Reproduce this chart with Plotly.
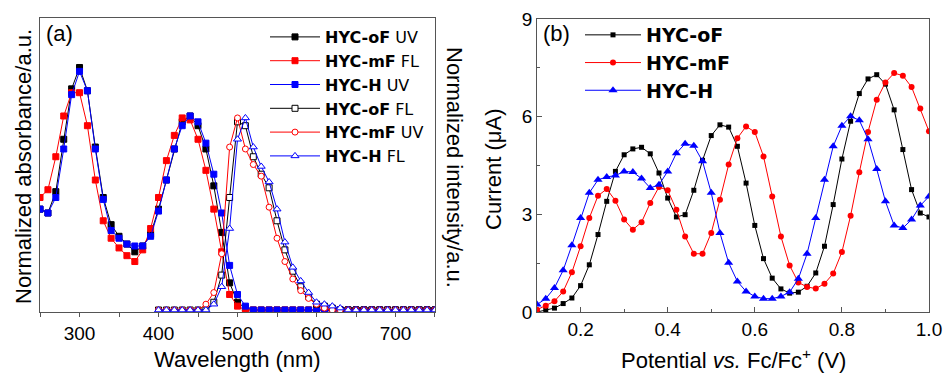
import plotly.graph_objects as go

# ---------------- Panel (a) data ----------------
wl_uv = list(range(250, 751, 10))
wl_fl = list(range(400, 751, 10))

oF_uv = [0.52, 0.50, 0.61, 0.88, 1.14, 1.25, 1.13, 0.84, 0.58, 0.44, 0.38, 0.34, 0.30, 0.33,
         0.39, 0.52, 0.67, 0.83, 0.97, 1.00, 0.95, 0.83, 0.64, 0.40, 0.14, 0.04, 0.01,
         0, 0, 0, 0, 0, 0, 0, 0, 0, 0, 0, 0, 0, 0, 0, 0, 0, 0, 0, 0, 0, 0, 0, 0]
mF_uv = [0.58, 0.62, 0.79, 1.00, 1.12, 1.12, 0.95, 0.67, 0.46, 0.37, 0.32, 0.28, 0.25, 0.31,
         0.42, 0.58, 0.77, 0.90, 0.99, 0.98, 0.88, 0.72, 0.52, 0.30, 0.08, 0.02, 0.00,
         0, 0, 0, 0, 0, 0, 0, 0, 0, 0, 0, 0, 0, 0, 0, 0, 0, 0, 0, 0, 0, 0, 0, 0]
H_uv = [0.52, 0.50, 0.58, 0.83, 1.11, 1.23, 1.13, 0.83, 0.57, 0.41, 0.37, 0.34, 0.33, 0.33,
        0.38, 0.51, 0.67, 0.83, 0.95, 1.00, 0.97, 0.86, 0.70, 0.50, 0.23, 0.08, 0.02, 0.00,
        0, 0, 0, 0, 0, 0, 0, 0, 0, 0, 0, 0, 0, 0, 0, 0, 0, 0, 0, 0, 0, 0, 0]

oF_fl = [0, 0, 0, 0, 0, 0, 0, 0.04, 0.18, 0.58, 0.97, 0.95, 0.79, 0.70, 0.63, 0.46, 0.31,
         0.20, 0.12, 0.07, 0.03, 0.02, 0.01, 0, 0, 0, 0, 0, 0, 0, 0, 0, 0, 0, 0, 0]
mF_fl = [0, 0, 0, 0, 0, 0, 0.03, 0.09, 0.29, 0.84, 0.99, 0.83, 0.75, 0.69, 0.53, 0.37, 0.25,
         0.16, 0.10, 0.06, 0.03, 0.01, 0.00, 0, 0, 0, 0, 0, 0, 0, 0, 0, 0, 0, 0, 0]
H_fl = [0, 0, 0, 0, 0, 0, 0, 0.03, 0.12, 0.42, 0.88, 0.99, 0.84, 0.74, 0.66, 0.52, 0.35,
        0.22, 0.15, 0.09, 0.04, 0.03, 0.02, 0.01, 0, 0, 0, 0, 0, 0, 0, 0, 0, 0, 0, 0]

# ---------------- Panel (b) data ----------------
potential = [round(0.10 + 0.02 * i, 2) for i in range(46)]
cur_oF = [0.00, 0.07, 0.12, 0.26, 0.43, 0.81, 1.45, 2.38, 3.40, 4.32, 4.83, 5.01, 5.06, 4.86,
          4.27, 3.50, 2.92, 2.99, 3.74, 4.66, 5.42, 5.75, 5.68, 5.09, 3.96, 2.66, 1.64, 1.04,
          0.71, 0.58, 0.61, 0.79, 1.20, 2.02, 3.30, 4.70, 5.86, 6.71, 7.16, 7.29, 7.00, 6.21,
          4.99, 3.76, 3.04, 2.92]
cur_mF = [0.07, 0.19, 0.33, 0.63, 1.22, 2.02, 2.89, 3.57, 3.78, 3.42, 2.84, 2.53, 2.76, 3.35,
          3.84, 3.74, 3.14, 2.32, 1.79, 1.79, 2.43, 3.45, 4.53, 5.34, 5.70, 5.53, 4.78, 3.55,
          2.32, 1.43, 0.91, 0.77, 0.72, 0.87, 1.18, 1.84, 2.96, 4.29, 5.53, 6.52, 7.05, 7.34,
          7.26, 6.91, 6.25, 5.55]
cur_H = [0.23, 0.41, 0.74, 1.28, 2.05, 2.89, 3.66, 4.06, 4.15, 4.19, 4.32, 4.30, 4.10, 3.81,
         3.91, 4.32, 4.88, 5.17, 5.11, 4.63, 3.66, 2.43, 1.51, 0.94, 0.63, 0.48, 0.41, 0.41,
         0.48, 0.61, 1.02, 1.79, 2.89, 4.06, 5.09, 5.72, 6.01, 5.89, 5.31, 4.39, 3.40, 2.66,
         2.58, 2.84, 3.27, 3.55]

BLACK, RED, BLUE = "#000000", "#ff0000", "#0000ff"
FONT = "Liberation Sans, Arial, sans-serif"
LEG_FONT = "DejaVu Sans, Liberation Sans, sans-serif"

fig = go.Figure()

series_a = [
    ("<b>HYC-oF</b> UV", wl_uv, oF_uv, BLACK, "square", True),
    ("<b>HYC-mF</b> FL", wl_uv, mF_uv, RED, "square", True),
    ("<b>HYC-H</b> UV", wl_uv, H_uv, BLUE, "square", True),
    ("<b>HYC-oF</b> FL", wl_fl, oF_fl, BLACK, "square", False),
    ("<b>HYC-mF</b> UV", wl_fl, mF_fl, RED, "circle", False),
    ("<b>HYC-H</b> FL", wl_fl, H_fl, BLUE, "triangle-up", False),
]
for i, (name, x, y, c, sym, filled) in enumerate(series_a):
    fig.add_trace(go.Scatter(
        x=x, y=y, name=name, mode="lines+markers", xaxis="x", yaxis="y",
        legend="legend", legendgroup="a%d" % i,
        line=dict(color=c, width=1),
        marker=dict(symbol=sym, size=6 if sym != "triangle-up" else 7,
                    color=c if filled else "white", line=dict(color=c, width=1)),
    ))

series_b = [
    ("<b>HYC-oF</b>", cur_oF, BLACK, "square", 5),
    ("<b>HYC-mF</b>", cur_mF, RED, "circle", 6),
    ("<b>HYC-H</b>", cur_H, BLUE, "triangle-up", 8),
]
for i, (name, y, c, sym, sz) in enumerate(series_b):
    fig.add_trace(go.Scatter(
        x=potential, y=y, name=name, mode="lines+markers", xaxis="x2", yaxis="y2",
        legend="legend2", legendgroup="b%d" % i,
        line=dict(color=c, width=1),
        marker=dict(symbol=sym, size=sz, color=c, line=dict(width=0)),
    ))

axis_line = dict(showline=True, mirror=True, linecolor="#555555", linewidth=1,
                 showgrid=False, zeroline=False)

fig.update_layout(
    width=944, height=373,
    margin=dict(l=0, r=0, t=0, b=0, autoexpand=False),
    paper_bgcolor="white", plot_bgcolor="white",
    font=dict(family=FONT, color="black", size=19),
    showlegend=True,
    xaxis=dict(domain=[0.0424, 0.4608], range=[250, 750], anchor="y",
               tickvals=[300, 400, 500, 600, 700], ticks="outside", ticklen=4,
               tickcolor="#555555", tickfont=dict(size=19),
               minor=dict(tickvals=[250, 350, 450, 550, 650, 750], ticks="outside",
                          ticklen=4, tickcolor="#555555"),
               **axis_line),
    yaxis=dict(domain=[0.1635, 0.9517], range=[-0.0103, 1.505], anchor="x",
               showticklabels=False, ticks="", **axis_line),
    xaxis2=dict(domain=[0.5689, 0.9841], range=[0.1, 1.0], anchor="y2",
                tickvals=[0.2, 0.4, 0.6, 0.8, 1.0], ticktext=["0.2", "0.4", "0.6", "0.8", "1.0"],
                ticks="inside", ticklen=5, tickcolor="#555555", tickfont=dict(size=19),
                minor=dict(tickvals=[0.1, 0.3, 0.5, 0.7, 0.9], ticks="inside",
                           ticklen=3, tickcolor="#555555"),
                **axis_line),
    yaxis2=dict(domain=[0.1635, 0.949], range=[0, 9], anchor="x2",
                tickvals=[0, 3, 6, 9], ticks="inside", ticklen=5, tickcolor="#555555",
                tickfont=dict(size=19),
                minor=dict(tickvals=[1.5, 4.5, 7.5], ticks="inside", ticklen=3,
                           tickcolor="#555555"),
                **axis_line),
    legend=dict(x=265 / 944, y=1 - 20 / 373, xanchor="left", yanchor="top",
                bgcolor="rgba(0,0,0,0)", font=dict(size=16, family=LEG_FONT),
                itemwidth=50, tracegroupgap=0),
    legend2=dict(x=580 / 944, y=1 - 16 / 373, xanchor="left", yanchor="top",
                 bgcolor="rgba(0,0,0,0)", font=dict(size=19, family=LEG_FONT),
                 itemwidth=56, tracegroupgap=0),
    annotations=[
        dict(text="(a)", x=44 / 944, y=1 - 33 / 373, xref="paper", yref="paper",
             xanchor="left", yanchor="middle", showarrow=False, font=dict(size=22)),
        dict(text="(b)", x=541 / 944, y=1 - 33 / 373, xref="paper", yref="paper",
             xanchor="left", yanchor="middle", showarrow=False, font=dict(size=22)),
        dict(text="Wavelength (nm)", x=237 / 944, y=1 - 359 / 373, xref="paper", yref="paper",
             xanchor="center", yanchor="middle", showarrow=False, font=dict(size=22)),
        dict(text="Normalized absorbance/a.u.", x=23 / 944, y=1 - 167 / 373, xref="paper",
             yref="paper", xanchor="center", yanchor="middle", textangle=-90,
             showarrow=False, font=dict(size=22)),
        dict(text="Normalized intensity/a.u.", x=455 / 944, y=1 - 167 / 373, xref="paper",
             yref="paper", xanchor="center", yanchor="middle", textangle=90,
             showarrow=False, font=dict(size=22)),
        dict(text="Potential <i>vs.</i> Fc/Fc<sup>+</sup> (V)", x=733 / 944, y=1 - 359 / 373,
             xref="paper", yref="paper", xanchor="center", yanchor="middle",
             showarrow=False, font=dict(size=22)),
        dict(text="Current (μA)", x=493 / 944, y=1 - 170 / 373, xref="paper", yref="paper",
             xanchor="center", yanchor="middle", textangle=-90, showarrow=False,
             font=dict(size=22)),
    ],
)

fig.write_html(
    "out.html",
    config={"displayModeBar": False},
    post_script="document.body.style.margin='0';document.body.style.padding='0';"
                "document.documentElement.style.overflow='hidden';",
)
